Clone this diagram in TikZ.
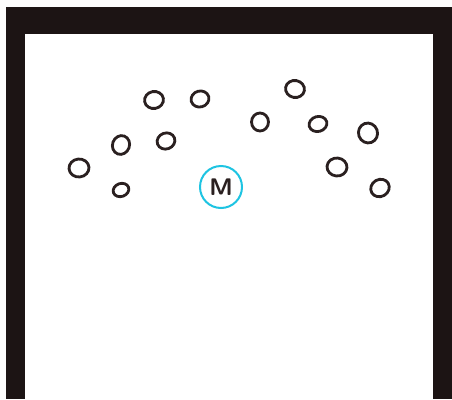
\documentclass[tikz,border=0pt]{standalone}
\usetikzlibrary{shapes.geometric}
\definecolor{frameblk}{HTML}{1C1414}
\definecolor{inkblk}{HTML}{2A2020}
\definecolor{mcyan}{HTML}{1EC4E2}
\definecolor{paper}{HTML}{FDFDFD}
\tikzset{
  spot/.style={ellipse, draw=inkblk, line width=2.8pt, inner sep=0pt},
  coach/.style={circle, draw=mcyan, line width=2pt, minimum size=42pt, inner sep=0pt,
    font=\sffamily\fontsize{24}{24}\selectfont, text=inkblk}
}
\begin{document}
\begin{tikzpicture}[x=1pt,y=-1pt]
\useasboundingbox (0,0) rectangle (452,399);
\fill[paper] (0,0) rectangle (452,399);
\fill[frameblk] (6,7) rectangle (452,399);
\fill[white] (25,34) rectangle (433,399);
\node[spot, minimum width=19pt, minimum height=17pt, rotate=10] (p1) at (154,100) {};
\node[spot, minimum width=18pt, minimum height=16pt, rotate=15] (p2) at (200,99) {};
\node[spot, minimum width=19pt, minimum height=17pt, rotate=-10] (p3) at (295,89) {};
\node[spot, minimum width=17pt, minimum height=18pt] (p4) at (260,122) {};
\node[spot, minimum width=18pt, minimum height=15pt, rotate=15] (p5) at (318,124) {};
\node[spot, minimum width=19pt, minimum height=20pt, rotate=20] (p6) at (368,133) {};
\node[spot, minimum width=17pt, minimum height=19pt, rotate=-20] (p7) at (121,145) {};
\node[spot, minimum width=18pt, minimum height=16pt, rotate=20] (p8) at (166,141) {};
\node[spot, minimum width=20pt, minimum height=18pt, rotate=5] (p9) at (79,168) {};
\node[spot, minimum width=16pt, minimum height=13pt, rotate=20] (p10) at (121,190) {};
\node[spot, minimum width=20pt, minimum height=18pt, rotate=-5] (p11) at (337,167) {};
\node[spot, minimum width=19pt, minimum height=17pt, rotate=30] (p12) at (380,188) {};
\node[coach] (m) at (221,187) {\textbf{M}};
\end{tikzpicture}
\end{document}
